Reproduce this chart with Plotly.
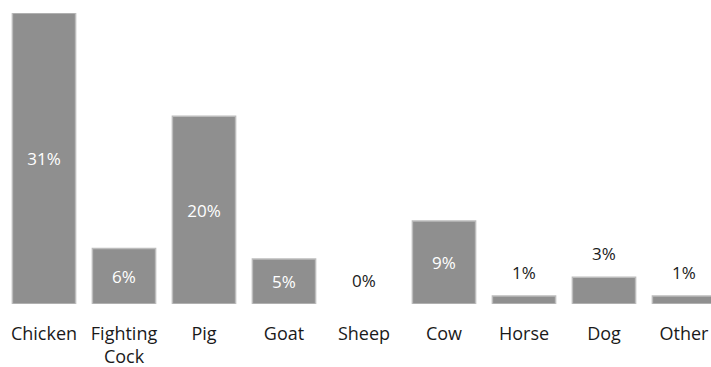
import plotly.graph_objects as go

categories = ["Chicken", "Fighting<br>Cock", "Pig", "Goat", "Sheep", "Cow", "Horse", "Dog", "Other"]
values = [31, 5.9, 20, 4.8, 0, 8.85, 0.85, 2.85, 0.85]
labels = ["31%", "6%", "20%", "5%", "0%", "9%", "1%", "3%", "1%"]

FONT = "Open Sans"
inside = [v >= 4 for v in values]

fig = go.Figure()
fig.add_trace(go.Bar(
    x=categories,
    y=values,
    text=[l if i else "" for l, i in zip(labels, inside)],
    textposition="inside",
    insidetextanchor="middle",
    textfont=dict(family=FONT, size=17, color="white"),
    marker=dict(color="#8f8f8f",
                line=dict(color="#bcbcbc", width=[1.5 if v > 0 else 0 for v in values])),
    hoverinfo="skip",
))

for c, v, l, i in zip(categories, values, labels, inside):
    if not i:
        fig.add_annotation(x=c, y=v, text=l, showarrow=False, yanchor="bottom",
                           yshift=10, font=dict(family=FONT, size=17, color="#1a1a1a"))

fig.update_layout(
    width=711, height=367,
    margin=dict(l=4, r=0, t=13, b=63),
    paper_bgcolor="white", plot_bgcolor="white",
    bargap=0.21,
    showlegend=False,
    uniformtext=dict(minsize=17, mode="show"),
)
fig.update_xaxes(range=[-0.5, 8.3375], showgrid=False, showline=False, zeroline=False,
                 ticks="", tickfont=dict(family=FONT, size=18, color="#1a1a1a"),
                 ticklabelstandoff=17, automargin=False, fixedrange=True)
fig.update_yaxes(range=[0, 31], visible=False, fixedrange=True)

fig.write_html("out.html")
